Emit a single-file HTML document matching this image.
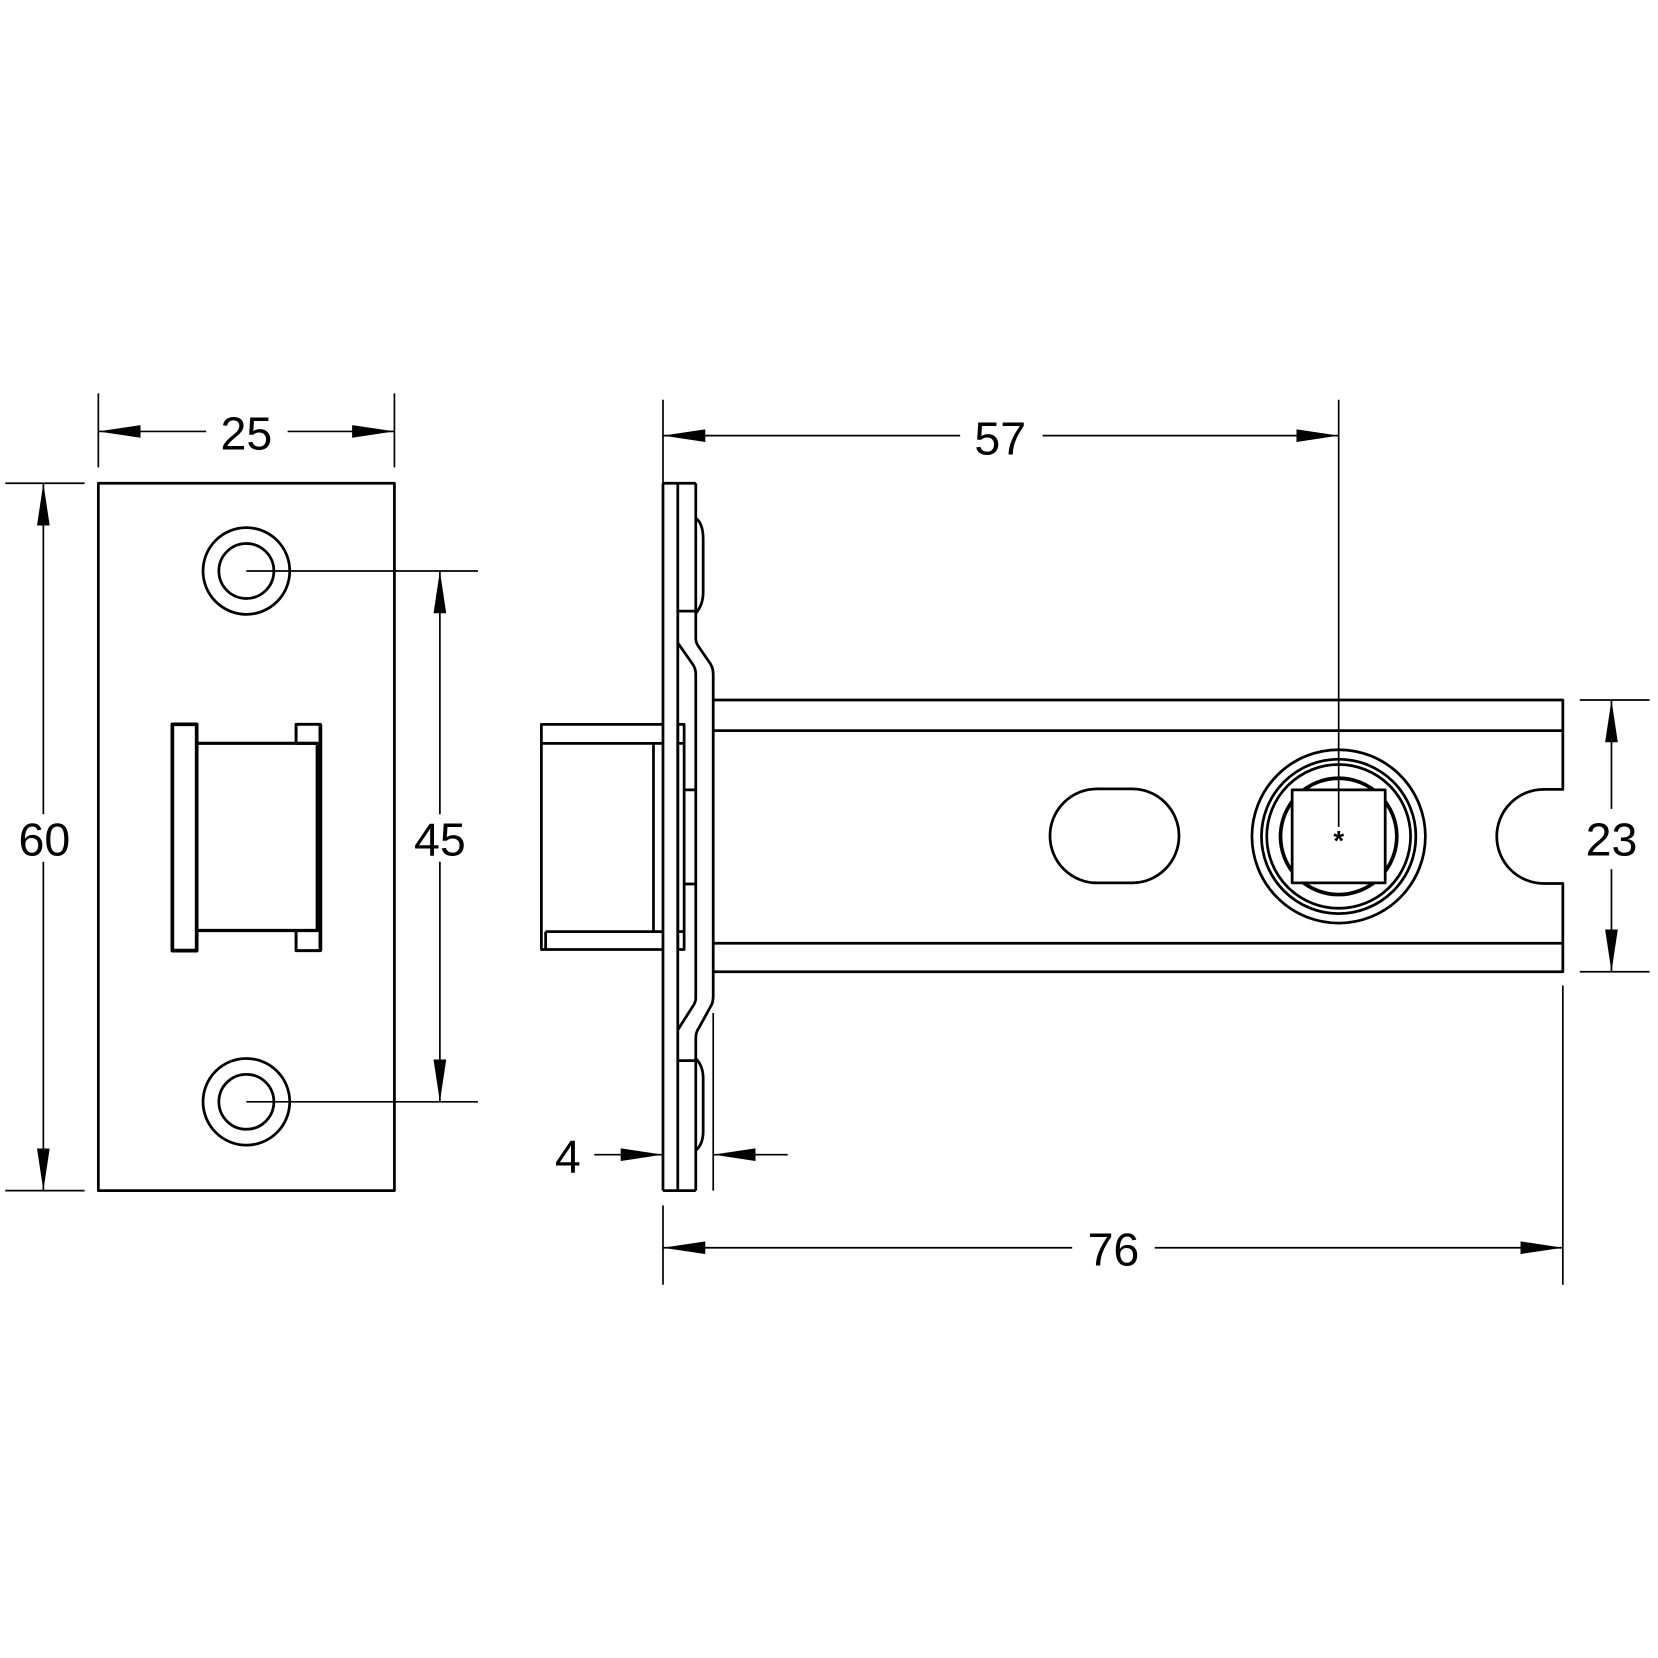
<!DOCTYPE html>
<html><head><style>html,body{margin:0;padding:0;background:#fff}svg{display:block}</style></head>
<body>
<svg width="1658" height="1658" viewBox="0 0 1568 1568" xmlns="http://www.w3.org/2000/svg">
<defs>
<marker id="a" viewBox="0 0 40 12" refX="40" refY="6" markerWidth="40" markerHeight="12" markerUnits="userSpaceOnUse" orient="auto-start-reverse"><path d="M0,0 L40,6 L0,12 Z" fill="#000"/></marker>
</defs>
<g fill="none" stroke="#000" stroke-width="2.6" stroke-linejoin="round">
<!-- LEFT VIEW -->
<rect x="93" y="457" width="280" height="669"/>
<circle cx="233" cy="540" r="41"/><circle cx="233" cy="540" r="26"/>
<circle cx="233" cy="1042" r="41"/><circle cx="233" cy="1042" r="26"/>
<rect x="163" y="685" width="23" height="214" stroke-width="3.5"/>
<path d="M186 703 H300 V880 H186" stroke-width="3"/>
<rect x="280" y="685" width="23" height="18" stroke-width="2.8"/>
<rect x="280" y="880" width="23" height="19" stroke-width="2.8"/>
<line x1="303" y1="685" x2="303" y2="899" stroke-width="3.5"/>
<!-- left dims -->
<g stroke-width="1.6">
<line x1="233" y1="540" x2="452" y2="540"/><line x1="233" y1="1042" x2="452" y2="1042"/>
<line x1="5" y1="457" x2="80" y2="457"/><line x1="5" y1="1126" x2="80" y2="1126"/>
<line x1="93" y1="372" x2="93" y2="442"/><line x1="373" y1="372" x2="373" y2="442"/>
<line x1="41" y1="457" x2="41" y2="770" marker-start="url(#a)"/><line x1="41" y1="815" x2="41" y2="1126" marker-end="url(#a)"/>
<line x1="416" y1="540" x2="416" y2="770" marker-start="url(#a)"/><line x1="416" y1="815" x2="416" y2="1042" marker-end="url(#a)"/>
<line x1="93" y1="408" x2="195" y2="408" marker-start="url(#a)"/><line x1="272" y1="408" x2="373" y2="408" marker-end="url(#a)"/>
</g>
<!-- RIGHT VIEW plate -->
<line x1="627" y1="457" x2="627" y2="1126"/>
<line x1="641" y1="457" x2="641" y2="1126"/>
<line x1="627" y1="457" x2="658" y2="457"/>
<line x1="627" y1="1126" x2="658" y2="1126"/>
<path d="M658 457 V604 Q658 608 661 612 L672 628 Q674.5 632 674.5 638 V942 Q674.5 948 672 952 L661 972 Q658 976 658 982 V1126"/>
<path d="M641 608 L655 628 Q658 632 658 638 V944 Q658 948 655 952 L641 974"/>
<line x1="641" y1="578" x2="658" y2="578"/>
<line x1="641" y1="1003" x2="658" y2="1003"/>
<path d="M658 490 Q665 495 665 510 V560 Q665 572 658 580"/>
<path d="M658 1001 Q665 1008 665 1020 V1070 Q665 1082 658 1088"/>
<!-- bolt -->
<path d="M627 685 H512 V898 H627"/>
<line x1="512" y1="703" x2="627" y2="703"/>
<line x1="516" y1="881" x2="627" y2="881"/>
<line x1="516" y1="881" x2="516" y2="898"/>
<line x1="618" y1="703" x2="618" y2="881"/>
<rect x="641" y="685" width="6" height="213"/>
<line x1="641" y1="703" x2="647" y2="703"/><line x1="641" y1="881" x2="647" y2="881"/>
<line x1="647" y1="747" x2="658" y2="747"/><line x1="647" y1="836" x2="658" y2="836"/>
<!-- body -->
<path d="M674.5 662 H1478 V746.5 H1460 A44.5 44.5 0 0 0 1460 835.5 H1478 V919 H674.5"/>
<line x1="674.5" y1="691" x2="1478" y2="691"/>
<line x1="674.5" y1="892" x2="1478" y2="892"/>
<rect x="993" y="746" width="122" height="89" rx="44.5"/>
<circle cx="1266" cy="791" r="82"/>
<circle cx="1266" cy="791" r="73"/>
<circle cx="1266" cy="791" r="68"/>
<circle cx="1266" cy="791" r="55" stroke-width="3.5"/>
<rect x="1222" y="747" width="88" height="88" fill="#fff"/>
<text x="1266" y="804" font-family="Liberation Sans, sans-serif" font-size="26" font-weight="bold" text-anchor="middle" fill="#000" stroke="none">*</text>
<!-- right dims -->
<g stroke-width="1.6">
<line x1="627" y1="378" x2="627" y2="457"/>
<line x1="1266" y1="378" x2="1266" y2="782"/>
<line x1="627" y1="412" x2="908" y2="412" marker-start="url(#a)"/><line x1="986" y1="412" x2="1266" y2="412" marker-end="url(#a)"/>
<line x1="627" y1="1140" x2="627" y2="1215"/>
<line x1="1478" y1="932" x2="1478" y2="1215"/>
<line x1="627" y1="1180" x2="1014" y2="1180" marker-start="url(#a)"/><line x1="1092" y1="1180" x2="1478" y2="1180" marker-end="url(#a)"/>
<line x1="1494" y1="662" x2="1560" y2="662"/><line x1="1494" y1="919" x2="1560" y2="919"/>
<line x1="1524" y1="662" x2="1524" y2="765" marker-start="url(#a)"/><line x1="1524" y1="822" x2="1524" y2="919" marker-end="url(#a)"/>
<line x1="674.5" y1="958" x2="674.5" y2="1126"/>
<line x1="562" y1="1092" x2="627" y2="1092" marker-end="url(#a)"/>
<line x1="745" y1="1092" x2="674.5" y2="1092" marker-end="url(#a)"/>
</g>
</g>
<g font-family="Liberation Sans, sans-serif" font-size="44" text-anchor="middle" fill="#000">
<text x="233" y="425">25</text>
<text x="42" y="809">60</text>
<text x="416" y="809">45</text>
<text x="946" y="430">57</text>
<text x="1053" y="1197">76</text>
<text x="1524" y="809">23</text>
<text x="537" y="1109">4</text>
</g>
</svg>
</body></html>
